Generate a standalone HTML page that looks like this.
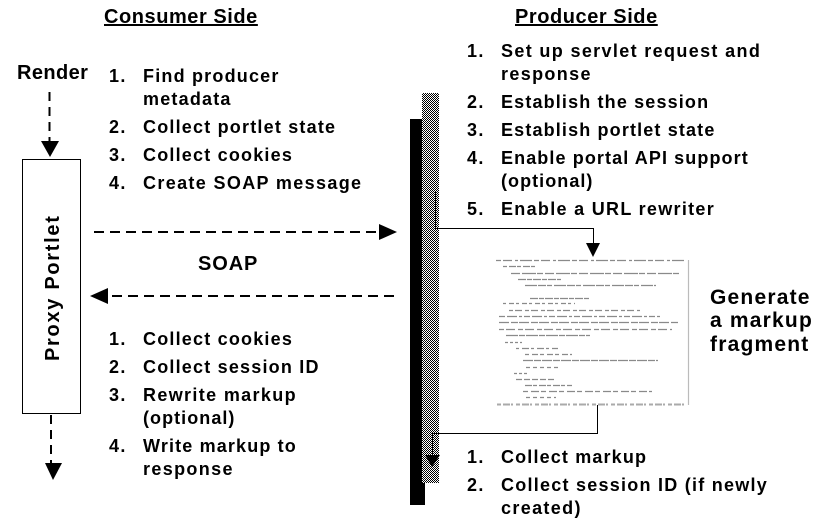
<!DOCTYPE html>
<html>
<head>
<meta charset="utf-8">
<style>
html,body{margin:0;padding:0;background:#fff}
svg{display:block}
text{font-family:"Liberation Sans",Arial,sans-serif;font-weight:bold;fill:#000;font-size:18px;letter-spacing:1.35px}
.h{font-size:20px;letter-spacing:0.55px;text-decoration:underline}
.g{font-size:21px;letter-spacing:1.2px}
.r{font-size:20px;letter-spacing:0.4px}
.s{font-size:20px;letter-spacing:0.9px}
.a{letter-spacing:1.2px}
.b{letter-spacing:1.15px}
.c{letter-spacing:1.05px}
</style>
</head>
<body>
<svg width="823" height="526" viewBox="0 0 823 526" xmlns="http://www.w3.org/2000/svg">
<defs>
<pattern id="c" width="2" height="2" patternUnits="userSpaceOnUse">
<rect width="2" height="2" fill="#fff"/>
<rect width="1" height="1" fill="#000"/>
<rect x="1" y="1" width="1" height="1" fill="#000"/>
</pattern>
</defs>
<rect width="823" height="526" fill="#fff"/>

<text class="h" x="104" y="23">Consumer Side</text>
<text class="h" x="515" y="23">Producer Side</text>
<text x="17" y="79" class="r">Render</text>

<!-- Consumer list top -->
<text x="109" y="82">1.</text><text class="a" x="143" y="82">Find producer</text>
<text class="a" x="143" y="105">metadata</text>
<text x="109" y="133">2.</text><text class="a" x="143" y="133">Collect portlet state</text>
<text x="109" y="161">3.</text><text class="a" x="143" y="161">Collect cookies</text>
<text x="109" y="189">4.</text><text x="143" y="189">Create SOAP message</text>

<!-- Consumer list bottom -->
<text x="109" y="345">1.</text><text class="a" x="143" y="345">Collect cookies</text>
<text x="109" y="373">2.</text><text class="a" x="143" y="373">Collect session ID</text>
<text x="109" y="401">3.</text><text x="143" y="401">Rewrite markup</text>
<text class="c" x="143" y="424">(optional)</text>
<text x="109" y="452">4.</text><text class="b" x="143" y="452">Write markup to</text>
<text x="143" y="475">response</text>

<!-- Producer list top -->
<text x="467" y="57">1.</text><text x="501" y="57">Set up servlet request and</text>
<text x="501" y="80">response</text>
<text x="467" y="108">2.</text><text class="b" x="501" y="108">Establish the session</text>
<text x="467" y="136">3.</text><text class="b" x="501" y="136">Establish portlet state</text>
<text x="467" y="164">4.</text><text style="letter-spacing:1.1px" x="501" y="164">Enable portal API support</text>
<text class="c" x="501" y="187">(optional)</text>
<text x="467" y="215">5.</text><text style="letter-spacing:1.3px" x="501" y="215">Enable a URL rewriter</text>

<!-- Producer list bottom -->
<text x="467" y="463">1.</text><text class="b" x="501" y="463">Collect markup</text>
<text x="467" y="491">2.</text><text style="letter-spacing:1.25px" x="501" y="491">Collect session ID (if newly</text>
<text x="501" y="514">created)</text>

<text x="710" y="304" class="g">Generate</text>
<text x="710" y="327" class="g">a markup</text>
<text x="710" y="351" class="g">fragment</text>
<text x="198" y="270" class="s">SOAP</text>

<!-- Proxy Portlet box -->
<rect x="22.5" y="159.5" width="58" height="254" fill="#fff" stroke="#000" stroke-width="1"/>
<text transform="translate(59,361) rotate(-90)" style="font-size:20px;letter-spacing:1.7px">Proxy Portlet</text>

<!-- Render arrow -->
<line x1="49.5" y1="92" x2="49.5" y2="142" stroke="#000" stroke-width="2" stroke-dasharray="9 6"/>
<polygon points="41,141 59,141 50,157" fill="#000"/>

<!-- Bottom left arrow -->
<line x1="51" y1="415" x2="51" y2="464" stroke="#000" stroke-width="2" stroke-dasharray="9 6"/>
<polygon points="45,463 62,463 53,480" fill="#000"/>

<!-- Horizontal dashed -->
<line x1="94" y1="232" x2="380" y2="232" stroke="#000" stroke-width="2" stroke-dasharray="10 6"/>
<polygon points="379,224 379,240 397,232" fill="#000"/>
<line x1="394" y1="296" x2="106" y2="296" stroke="#000" stroke-width="2" stroke-dasharray="10 6"/>
<polygon points="108,288 108,304 90,296" fill="#000"/>

<!-- Bar -->
<rect x="410" y="119" width="12" height="386" fill="#000"/>
<rect x="422" y="483" width="3" height="22" fill="#000"/>
<rect x="422" y="93" width="17" height="390" fill="url(#c)"/>

<!-- connectors -->
<path d="M435.5 192V228.5H593.5V245" fill="none" stroke="#000" stroke-width="1"/>
<polygon points="586,243 600,243 593,257" fill="#000"/>
<path d="M597.5 405V433.5H432.5V458" fill="none" stroke="#000" stroke-width="1"/>
<polygon points="425,455 440,455 432,467" fill="#000"/>

<!-- Markup fragment -->
<g stroke="#8a8a8a" stroke-width="1.2" fill="none">
<line x1="496" y1="260.5" x2="686" y2="260.5" stroke-dasharray="5 2 9 3 3 2 12 2"/>
<line x1="503" y1="266.5" x2="536" y2="266.5" stroke-dasharray="4 2 7 1"/>
<line x1="511" y1="273.5" x2="680" y2="273.5" stroke-dasharray="9 2 14 1 6 2"/>
<line x1="518" y1="279.5" x2="561" y2="279.5" stroke-dasharray="8 1 5 1"/>
<line x1="525" y1="285.5" x2="656" y2="285.5" stroke-dasharray="12 1 8 1 5 2"/>
<line x1="530" y1="298.5" x2="590" y2="298.5" stroke-dasharray="8 1 5 1"/>
<line x1="503" y1="303.5" x2="575" y2="303.5" stroke-dasharray="3 3 5 2"/>
<line x1="509" y1="310.5" x2="640" y2="310.5" stroke-dasharray="4 2 7 3"/>
<line x1="499" y1="316.5" x2="660" y2="316.5" stroke-dasharray="6 2 10 2 3 2"/>
<line x1="499" y1="322.5" x2="678" y2="322.5" stroke-dasharray="10 2 7 1"/>
<line x1="499" y1="329.5" x2="672" y2="329.5" stroke-dasharray="5 2 9 3"/>
<line x1="506" y1="335.5" x2="590" y2="335.5" stroke-dasharray="12 1 6 1"/>
<line x1="505" y1="342.5" x2="522" y2="342.5" stroke-dasharray="3 2"/>
<line x1="516" y1="348.5" x2="558" y2="348.5" stroke-dasharray="3 3 7 2"/>
<line x1="525" y1="354.5" x2="572" y2="354.5" stroke-dasharray="4 3 6 2"/>
<line x1="523" y1="360.5" x2="658" y2="360.5" stroke-dasharray="10 1 7 1"/>
<line x1="526" y1="367.5" x2="560" y2="367.5" stroke-dasharray="4 3"/>
<line x1="514" y1="373.5" x2="528" y2="373.5" stroke-dasharray="3 2"/>
<line x1="516" y1="379.5" x2="556" y2="379.5" stroke-dasharray="6 2"/>
<line x1="525" y1="385.5" x2="572" y2="385.5" stroke-dasharray="7 1 4 2"/>
<line x1="523" y1="391.5" x2="652" y2="391.5" stroke-dasharray="5 3 8 2"/>
<line x1="526" y1="397.5" x2="556" y2="397.5" stroke-dasharray="4 3"/>
<line x1="497" y1="404.5" x2="686" y2="404.5" stroke-width="2" stroke="#aaa" stroke-dasharray="4 2 7 1 2 3"/>
<line x1="688.5" y1="260" x2="688.5" y2="405" stroke="#bbb"/>
</g>
</svg>
</body>
</html>
